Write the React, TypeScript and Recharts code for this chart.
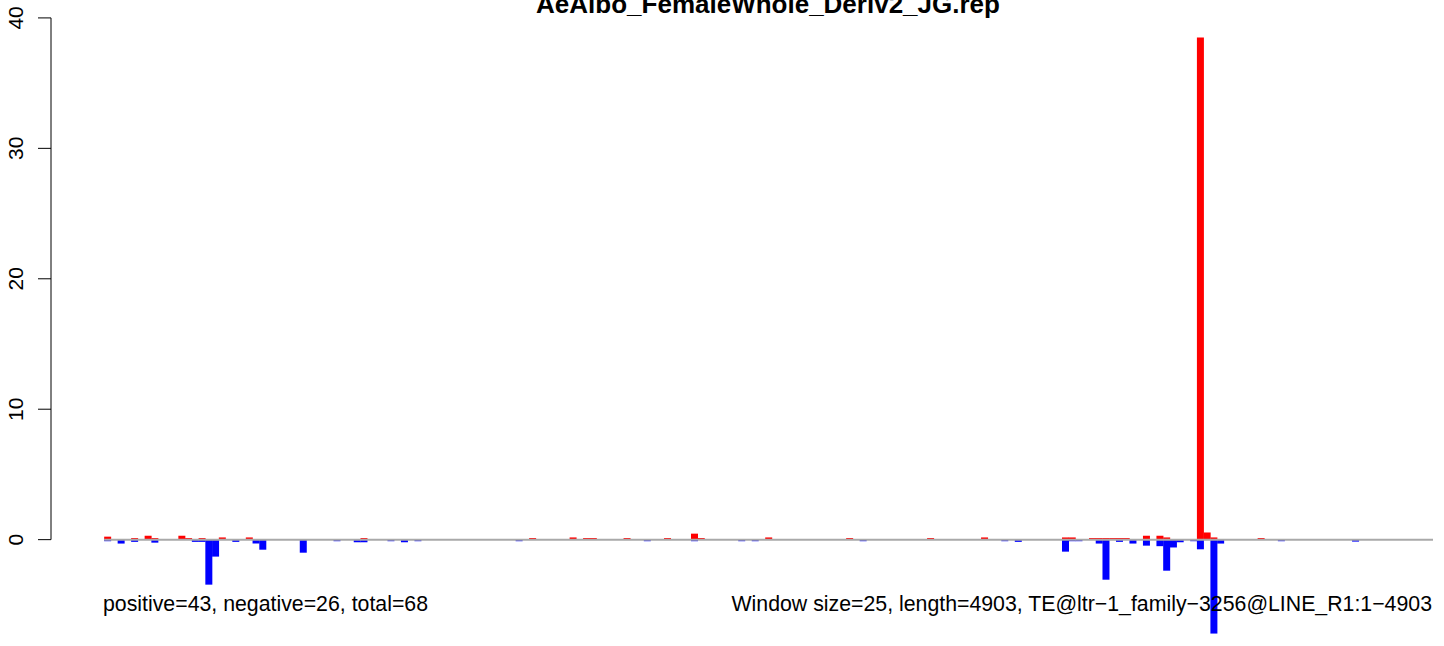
import { BarChart, Bar, XAxis, YAxis, ReferenceLine } from 'recharts'

// 25 bp windows over a 4903 bp element -> 197 windows
const windowCount = 197

// windows with reads on the positive strand (red, upward)
const posIndex = [0, 4, 6, 7, 11, 12, 14, 17, 21, 38, 63, 69, 71, 72, 77, 83, 87, 88, 98, 110, 122, 130, 142, 143, 146, 147, 148, 149, 150, 151, 154, 156, 157, 162, 163, 164, 171]
const posValue = [0.23, 0.12, 0.3, 0.12, 0.3, 0.12, 0.12, 0.17, 0.17, 0.12, 0.12, 0.17, 0.12, 0.12, 0.12, 0.12, 0.46, 0.12, 0.17, 0.12, 0.12, 0.17, 0.17, 0.17, 0.12, 0.12, 0.12, 0.12, 0.12, 0.12, 0.3, 0.3, 0.17, 38.5, 0.55, 0.17, 0.12]

// windows with reads on the negative strand (blue, downward)
const negIndex = [0, 2, 4, 7, 13, 14, 15, 16, 19, 22, 23, 29, 34, 37, 38, 42, 44, 46, 61, 80, 87, 94, 96, 112, 133, 135, 142, 143, 144, 147, 148, 150, 152, 154, 156, 157, 158, 159, 161, 162, 164, 165, 174, 185]
const negValue = [0.12, 0.3, 0.17, 0.23, 0.17, 0.17, 3.45, 1.3, 0.17, 0.3, 0.77, 1.0, 0.12, 0.2, 0.2, 0.12, 0.2, 0.12, 0.12, 0.12, 0.12, 0.12, 0.12, 0.12, 0.12, 0.17, 0.92, 0.12, 0.12, 0.3, 3.07, 0.17, 0.3, 0.46, 0.5, 2.38, 0.6, 0.2, 0.12, 0.74, 7.2, 0.3, 0.12, 0.15]

const yTicks = [0, 10, 20, 30, 40]

const title = 'AeAlbo_FemaleWhole_Deriv2_JG.rep'
const leftNote = 'positive=43, negative=26, total=68'
const rightNote = 'Window size=25, length=4903, TE@ltr\u22121_family\u22123256@LINE_R1:1\u22124903'

const FONT = '"Liberation Sans", Arial, Helvetica, sans-serif'

const data = Array.from({ length: windowCount }, (_, i) => {
  const p = posIndex.indexOf(i)
  const n = negIndex.indexOf(i)
  return { win: i, pos: p >= 0 ? posValue[p] : 0, neg: n >= 0 ? -negValue[n] : 0 }
})

// R-style 4% extension on the left of the bar range
const xMin = -0.5 - windowCount * 0.04
const xMax = windowCount - 0.5

const YTick = (props: any) => {
  const { x, y, payload } = props
  const bx = x - 15
  return (
    <text
      x={bx}
      y={y}
      transform={`rotate(-90, ${bx}, ${y})`}
      textAnchor="middle"
      fontSize={21}
      fontFamily={FONT}
      fill="#000"
    >
      {payload.value}
    </text>
  )
}

export default function App() {
  return (
    <div style={{ position: 'absolute', left: 0, top: 0, width: 1444, height: 646, background: '#fff' }}>
      <BarChart
        width={1444}
        height={646}
        data={data}
        stackOffset="sign"
        barCategoryGap={0}
        barGap={0}
        margin={{ top: 14, right: 11, bottom: 2, left: 0 }}
      >
        <XAxis dataKey="win" type="number" domain={[xMin, xMax]} hide allowDataOverflow />
        <YAxis
          type="number"
          domain={[-8, 40.3]}
          ticks={yTicks}
          width={51}
          axisLine={false}
          tickLine={{ stroke: '#000', strokeWidth: 1 }}
          tickSize={13}
          tickMargin={0}
          tick={<YTick />}
          interval={0}
          allowDataOverflow
        />
        <Bar dataKey="pos" stackId="s" fill="#ff0000" isAnimationActive={false} />
        <Bar dataKey="neg" stackId="s" fill="#0000ff" isAnimationActive={false} />
        <ReferenceLine segment={[{ x: -0.5, y: 0 }, { x: xMax, y: 0 }]} stroke="#a9a9a9" strokeWidth={2} />
        <ReferenceLine segment={[{ x: xMin, y: 0 }, { x: xMin, y: 40 }]} stroke="#000" strokeWidth={1} />
      </BarChart>
      <svg
        width={1444}
        height={646}
        style={{ position: 'absolute', left: 0, top: 0, pointerEvents: 'none' }}
      >
        <text x={768} y={13} textAnchor="middle" fontSize={26} fontWeight="bold" fontFamily={FONT} fill="#000">
          {title}
        </text>
        <text x={103} y={611} fontSize={21.3} fontFamily={FONT} fill="#000">
          {leftNote}
        </text>
        <text x={1432} y={611} textAnchor="end" fontSize={21.3} fontFamily={FONT} fill="#000">
          {rightNote}
        </text>
      </svg>
    </div>
  )
}
